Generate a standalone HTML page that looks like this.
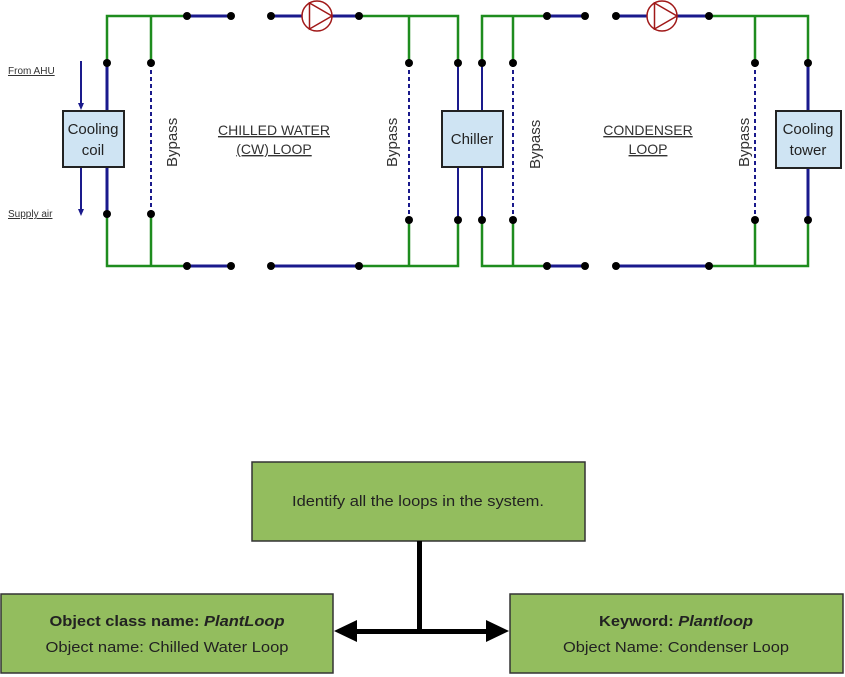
<!DOCTYPE html>
<html><head><meta charset="utf-8"><style>html,body{margin:0;padding:0;background:#fff}svg{display:block}</style></head>
<body>
<svg width="845" height="677" viewBox="0 0 845 677" xmlns="http://www.w3.org/2000/svg" font-family="Liberation Sans, sans-serif">
<g fill="none" stroke-linecap="butt">
<g stroke="#1e8c1e" stroke-width="2.5">
<path d="M107,63 V16 H187"/><path d="M107,214 V266 H187"/>
<path d="M359,16 H458 V63"/><path d="M359,266 H458 V220"/>
<path d="M151,16 V63"/><path d="M151,214 V266"/>
<path d="M409,16 V63"/><path d="M409,220 V266"/>
<path d="M482,63 V16 H547"/><path d="M482,220 V266 H547"/>
<path d="M513,16 V63"/><path d="M513,220 V266"/>
<path d="M709,16 H808 V63"/><path d="M709,266 H808 V220"/>
<path d="M755,16 V63"/><path d="M755,220 V266"/>
</g>
<g stroke="#1a1a8c" stroke-width="3">
<path d="M187,16 H231"/><path d="M271,16 H302"/><path d="M332,16 H359"/>
<path d="M187,266 H231"/><path d="M271,266 H359"/>
<path d="M547,16 H585"/><path d="M616,16 H647"/><path d="M677,16 H709"/>
<path d="M547,266 H585"/><path d="M616,266 H709"/>
<path d="M107,63 V111"/><path d="M107,167 V214"/>
<path d="M808,63 V111"/><path d="M808,168 V220"/>
</g>
<g stroke="#1a1a8c" stroke-width="2">
<path d="M458,63 V111"/><path d="M458,167 V220"/>
<path d="M482,63 V220"/>
<path d="M151,63 V214" stroke-dasharray="4,3"/>
<path d="M409,63 V220" stroke-dasharray="4,3"/>
<path d="M513,63 V220" stroke-dasharray="4,3"/>
<path d="M755,63 V220" stroke-dasharray="4,3"/>
<path d="M81,61 V104"/>
<path d="M81,168 V210"/>
</g>
<g stroke="#a01818" stroke-width="1.5">
<circle cx="317" cy="16" r="15"/><path d="M309.5,3 L332,16 L309.5,29 Z"/>
<circle cx="662" cy="16" r="15"/><path d="M654.5,3 L677,16 L654.5,29 Z"/>
</g>
</g>
<g fill="#1a1a8c">
<path d="M78,103 L84,103 L81,110 Z"/>
<path d="M78,209 L84,209 L81,216 Z"/>
</g>
<g fill="#000">
<circle cx="187" cy="16" r="4"/><circle cx="231" cy="16" r="4"/><circle cx="271" cy="16" r="4"/><circle cx="359" cy="16" r="4"/>
<circle cx="187" cy="266" r="4"/><circle cx="231" cy="266" r="4"/><circle cx="271" cy="266" r="4"/><circle cx="359" cy="266" r="4"/>
<circle cx="547" cy="16" r="4"/><circle cx="585" cy="16" r="4"/><circle cx="616" cy="16" r="4"/><circle cx="709" cy="16" r="4"/>
<circle cx="547" cy="266" r="4"/><circle cx="585" cy="266" r="4"/><circle cx="616" cy="266" r="4"/><circle cx="709" cy="266" r="4"/>
<circle cx="107" cy="63" r="4"/><circle cx="151" cy="63" r="4"/><circle cx="107" cy="214" r="4"/><circle cx="151" cy="214" r="4"/>
<circle cx="409" cy="63" r="4"/><circle cx="458" cy="63" r="4"/><circle cx="482" cy="63" r="4"/><circle cx="513" cy="63" r="4"/>
<circle cx="409" cy="220" r="4"/><circle cx="458" cy="220" r="4"/><circle cx="482" cy="220" r="4"/><circle cx="513" cy="220" r="4"/>
<circle cx="755" cy="63" r="4"/><circle cx="808" cy="63" r="4"/><circle cx="755" cy="220" r="4"/><circle cx="808" cy="220" r="4"/>
</g>
<g fill="#cfe4f3" stroke="#222" stroke-width="2">
<rect x="63" y="111" width="61" height="56"/>
<rect x="442" y="111" width="61" height="56"/>
<rect x="776" y="111" width="65" height="57"/>
</g>
<g fill="#222" font-size="15" text-anchor="middle">
<text x="93" y="134">Cooling</text><text x="93" y="155">coil</text>
<text x="472" y="144">Chiller</text>
<text x="808" y="134">Cooling</text><text x="808" y="155">tower</text>
</g>
<g fill="#333" font-size="14" text-anchor="middle" text-decoration="underline">
<text x="274" y="135">CHILLED WATER</text><text x="274" y="154">(CW) LOOP</text>
<text x="648" y="135">CONDENSER</text><text x="648" y="154">LOOP</text>
</g>
<g fill="#333" font-size="10" text-decoration="underline">
<text x="8" y="74">From AHU</text><text x="8" y="217">Supply air</text>
</g>
<g fill="#333" font-size="15">
<text transform="translate(177,167) rotate(-90)">Bypass</text>
<text transform="translate(397,167) rotate(-90)">Bypass</text>
<text transform="translate(540,169) rotate(-90)">Bypass</text>
<text transform="translate(749,167) rotate(-90)">Bypass</text>
</g>
<g fill="#93bd5e" stroke="#333" stroke-width="1.5">
<rect x="252" y="462" width="333" height="79"/>
<rect x="1" y="594" width="332" height="79"/>
<rect x="510" y="594" width="333" height="79"/>
</g>
<rect x="417" y="541" width="5" height="91" fill="#000"/>
<rect x="350" y="629" width="143" height="5" fill="#000"/>
<path d="M334,631 L357,620 L357,642 Z" fill="#000"/>
<path d="M509,631 L486,620 L486,642 Z" fill="#000"/>
<g fill="#222" font-size="15" text-anchor="middle">
<text x="418" y="506" textLength="252" lengthAdjust="spacingAndGlyphs">Identify all the loops in the system.</text>
<text x="167" y="626" font-weight="bold" textLength="235" lengthAdjust="spacingAndGlyphs">Object class name: <tspan font-style="italic">PlantLoop</tspan></text>
<text x="167" y="652" textLength="243" lengthAdjust="spacingAndGlyphs">Object name: Chilled Water Loop</text>
<text x="676" y="626" font-weight="bold" textLength="154" lengthAdjust="spacingAndGlyphs">Keyword: <tspan font-style="italic">Plantloop</tspan></text>
<text x="676" y="652" textLength="226" lengthAdjust="spacingAndGlyphs">Object Name: Condenser Loop</text>
</g>
</svg>
</body></html>
